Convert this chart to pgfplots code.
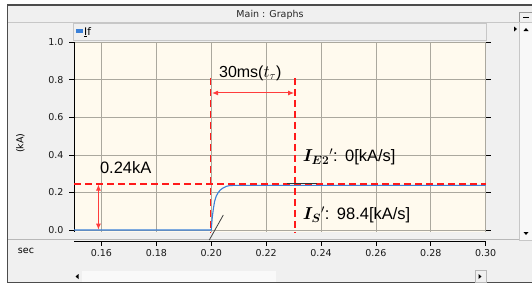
\documentclass[border=0pt]{standalone}
\usepackage{bm}
\usepackage{pgfplots}
\pgfplotsset{compat=1.18}
\usepackage{fontspec}
\setmainfont{Liberation Sans}
\newfontfamily\uifont{DejaVu Sans}
\usetikzlibrary{arrows.meta}
\definecolor{winbg}{HTML}{F0F0F0}
\definecolor{cream}{HTML}{FFFAEE}
\definecolor{gridc}{HTML}{ABA89E}
\definecolor{curve}{HTML}{3A80D8}
\definecolor{redd}{HTML}{FF1A1A}
\begin{document}
\begin{tikzpicture}
\begin{scope}[x=1pt,y=-1pt]
\fill[white] (0,0) rectangle (532,285);
\filldraw[fill=winbg, draw=black!70, line width=1.2pt] (7.3,5) rectangle (545,282.7);
% title bar
\node[font=\uifont\fontsize{9.5}{10}\selectfont, text=black!85] at (270,15) {Main : Graphs};
\draw[black!22] (8,22) -- (519,22);
% minimize button
\filldraw[fill=winbg, draw=black!40] (519,12) rectangle (533,22);
\draw[black, line width=1pt] (523,17.5)--(529,17.5);
% right scrollbar
\filldraw[fill=white!55!winbg, draw=black!22] (519,22.5) rectangle (533,240);
\fill (523.5,31)--(528.5,31)--(526,28)--cycle;
\fill (523.5,232)--(528.5,232)--(526,235)--cycle;
\fill (514,26.5)--(514,31.5)--(517,29)--cycle;
% legend bar
\filldraw[fill=winbg, draw=black!22] (73,23.5) rectangle (486,40.5);
\fill[curve] (76,29.3) rectangle (82.5,32.8);
\node[anchor=west, inner sep=0pt, font=\uifont\fontsize{10.5}{11}\selectfont] at (84,32.3) {\underline{I}f};
% separator
\draw[black!28] (8,239) -- (519,239);
% sec
\node[font=\uifont\fontsize{9.5}{10}\selectfont] at (26,251) {sec};
% y label
\node[rotate=90, font=\uifont\fontsize{9.5}{10}\selectfont] at (20.5,143) {(kA)};
% bottom scrollbar
\fill[black!6] (73,270.5) rectangle (486,282);
\fill[white!60!winbg] (82,271) rectangle (276,281.5);
\fill (78.5,274)--(78.5,279)--(75.5,276.5)--cycle;
\draw[black!28] (475,270.5) rectangle (486,282);
\fill (478.5,274)--(478.5,279)--(481.5,276.5)--cycle;
\end{scope}

\begin{axis}[at={(74pt,-231.9pt)}, anchor=south west,
  width=411.7pt, height=189.6pt, scale only axis,
  xmin=0.15, xmax=0.30, ymin=-0.01, ymax=1.0,
  axis background/.style={fill=cream},
  axis line style={draw=none},
  grid=major, grid style={gridc, line width=0.8pt},
  xtick={0.16,0.18,0.20,0.22,0.24,0.26,0.28,0.30}, xticklabels={},
  x tick style={draw=none},
  ytick={0,0.2,0.4,0.6,0.8,1.0},
  tick align=outside, major tick length=5pt,
  y tick style={black, line width=0.8pt},
  yticklabel style={font=\uifont\fontsize{9.5}{10}\selectfont, text=black!90, xshift=-2pt,
    /pgf/number format/.cd, fixed, fixed zerofill, precision=1},
  /pgf/number format/assume math mode=true,
  clip=false]
\draw[black, line width=0.9pt] (axis cs:0.15,-0.01) -- (axis cs:0.15,1.0);
\addplot[curve, line width=1.1pt] coordinates {
 (0.150,0) (0.200,0) (0.2004,0.071) (0.2008,0.115) (0.2012,0.151) (0.2018,0.180)
 (0.2024,0.196) (0.2032,0.212) (0.2042,0.223) (0.2054,0.232) (0.2067,0.237)
 (0.2090,0.238) (0.300,0.238)};
\addplot[redd, line width=1.8pt, dash pattern=on 7pt off 4pt] coordinates {(0.15,0.2435) (0.30,0.2435)};
\addplot[redd, line width=1.8pt, dash pattern=on 7pt off 4pt] coordinates {(0.1997,0.81) (0.1997,-0.016)};
\addplot[redd, line width=1.8pt, dash pattern=on 7pt off 4pt] coordinates {(0.2305,0.81) (0.2305,-0.016)};
\addplot[redd!85, line width=1pt, {Latex[length=6pt,width=5pt]}-{Latex[length=6pt,width=5pt]}] coordinates {(0.2003,0.73) (0.2302,0.73)};
\addplot[redd!85, line width=1pt, {Latex[length=6pt,width=5pt]}-{Latex[length=6pt,width=5pt]}] coordinates {(0.1589,0.002) (0.1589,0.2425)};
\addplot[black!80, line width=1pt] coordinates {(0.2275,0.2465) (0.2385,0.2465)};
\addplot[black!75, line width=0.8pt] coordinates {(0.2044,0.080) (0.1993,-0.053)};
\node[anchor=west, inner sep=0pt, font=\fontsize{16}{18}\selectfont] at (axis cs:0.2028,0.836) {30ms($t_\tau$)};
\node[anchor=west, inner sep=0pt, font=\fontsize{16.5}{18}\selectfont] at (axis cs:0.1594,0.333) {0.24kA};
\node[anchor=west, inner sep=0pt, font=\fontsize{16.5}{18}\selectfont] at (axis cs:0.2333,0.389) {$\bm{I_{E2}}{}'$:\hspace{0.45em}0[kA/s]};
\node[anchor=west, inner sep=0pt, font=\fontsize{16.5}{18}\selectfont] at (axis cs:0.2333,0.080) {$\bm{I_{S}}{}'$:\hspace{0.45em}98.4[kA/s]};
\end{axis}

\begin{axis}[at={(74pt,-241.7pt)}, anchor=south west,
  width=411.7pt, height=1pt, scale only axis,
  xmin=0.15, xmax=0.30, ymin=0, ymax=1,
  axis x line=bottom, axis y line=none,
  axis line style={-, black, line width=0.9pt},
  xtick={0.16,0.18,0.20,0.22,0.24,0.26,0.28,0.30},
  tick align=outside, major tick length=4pt,
  x tick style={black, line width=0.8pt},
  xticklabel style={font=\uifont\fontsize{9.5}{10}\selectfont, text=black!90,
    /pgf/number format/.cd, fixed, fixed zerofill, precision=2},
  /pgf/number format/assume math mode=true]
\addplot[draw=none] coordinates {(0.15,0) (0.30,0)};
\end{axis}
\pgfresetboundingbox
\useasboundingbox (0pt,0pt) rectangle (532pt,-285pt);
\end{tikzpicture}
\end{document}
